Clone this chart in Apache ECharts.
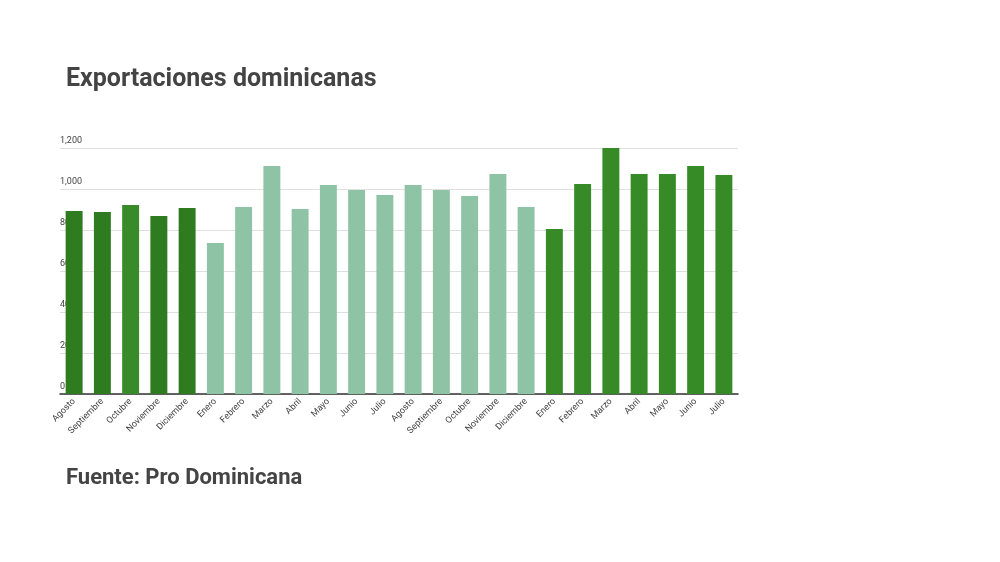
<!DOCTYPE html>
<html><head><meta charset="utf-8">
<script src="https://cdn.jsdelivr.net/npm/echarts@6/dist/echarts.min.js"></script>
<style>body{margin:0;background:#fff}#c{width:1000px;height:562px}</style>
</head><body><div id="c"></div>
<script>
var meses = ['Agosto','Septiembre','Octubre','Noviembre','Diciembre','Enero','Febrero','Marzo','Abril','Mayo','Junio','Julio','Agosto','Septiembre','Octubre','Noviembre','Diciembre','Enero','Febrero','Marzo','Abril','Mayo','Junio','Julio'];
var valores = [893,888,922,868,907,737,912,1112,902,1020,995,971,1020,995,966,1073,912,805,1024,1215,1073,1073,1112,1068];
var colores = ['#2e7b20','#2e7b20','#388b28','#2e7b20','#2e7b20','#8fc3a6','#8fc3a6','#8fc3a6','#8fc3a6','#8fc3a6','#8fc3a6','#8fc3a6','#8fc3a6','#8fc3a6','#8fc3a6','#8fc3a6','#8fc3a6','#378b27','#378b27','#378b27','#378b27','#378b27','#378b27','#378b27'];

var chart = echarts.init(document.getElementById('c'));
chart.setOption({
    textStyle: {fontFamily: 'Roboto'},
    title: [
        {text: 'Exportaciones dominicanas', left: 61, top: 62,
         textStyle: {fontSize: 25, fontWeight: 'bold', color: '#444'}},
        {text: 'Fuente: Pro Dominicana', left: 61, top: 462,
         textStyle: {fontSize: 22, fontWeight: 'bold', color: '#444'}}
    ],
    grid: {left: 60, right: 262, top: 148, bottom: 168},
    xAxis: {
        type: 'category',
        data: meses,
        axisTick: {show: false},
        axisLine: {lineStyle: {color: '#333', width: 1.5}},
        axisLabel: {rotate: 45, fontSize: 9, color: '#444', interval: 0, margin: 6}
    },
    yAxis: {
        type: 'value', min: 0, max: 1200, interval: 200,
        axisLabel: {inside: true, verticalAlign: 'bottom', fontSize: 9, color: '#444', margin: 0, padding: [0,0,3,0]},
        splitLine: {lineStyle: {color: '#e0e0e0'}}
    },
    series: [{
        type: 'bar',
        barWidth: '60%',
        data: valores.map(function (v, i) { return {value: v, itemStyle: {color: colores[i]}}; })
    }]
});
</script>
</body></html>
